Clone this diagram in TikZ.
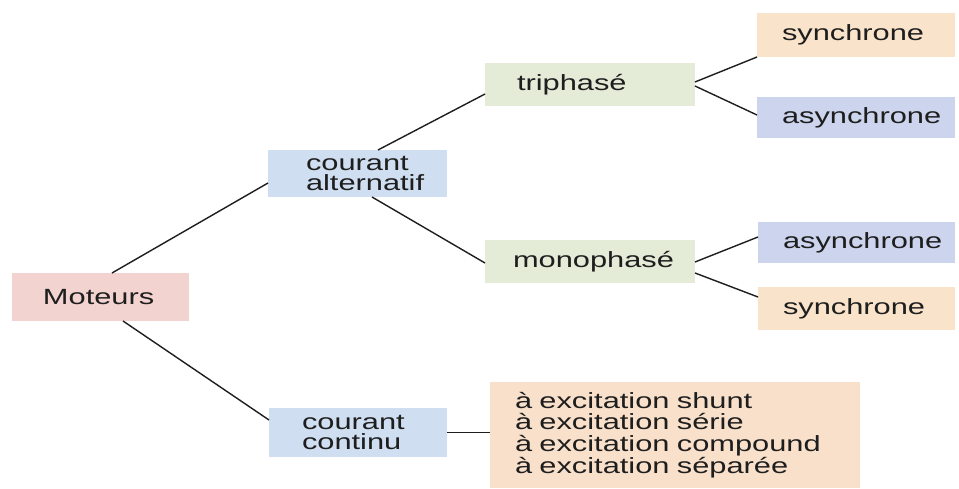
\documentclass[tikz,border=0pt]{standalone}
\usepackage{fontspec}
\setmainfont[FakeStretch=1.4]{Liberation Sans}
\definecolor{cpink}{HTML}{F2D3CF}
\definecolor{cblue}{HTML}{CFDEF0}
\definecolor{cgreen}{HTML}{E4EBD7}
\definecolor{cpeach}{HTML}{F9E4CB}
\definecolor{clav}{HTML}{CDD4ED}
\definecolor{cexc}{HTML}{F8E0CB}
\definecolor{cink}{HTML}{1E1E1E}
\tikzset{
  box/.style n args={3}{anchor=north west, inner sep=0pt, outer sep=0pt,
    minimum width=#1pt, text width=#1pt, minimum height=#2pt, align=left,
    text=cink, font=\fontsize{22}{20.5}\selectfont,
    execute at begin node={\leftskip=#3pt\relax}},
  link/.style={draw=cink, line width=1.4pt}
}
\begin{document}
\begin{tikzpicture}[x=1pt,y=-1pt]
\useasboundingbox (0,0) rectangle (959,489);
\fill[white] (0,0) rectangle (959,489);
\node[box={177}{48}{31}, fill=cpink] (mot) at (12,273) {Moteurs};
\node[box={179}{47}{38}, fill=cblue] (alt) at (268,150) {courant\\alternatif};
\node[box={210}{43}{32}, fill=cgreen] (tri) at (485,63) {triphasé};
\node[box={198}{44}{25}, fill=cpeach] (syn1) at (757,13) {synchrone};
\node[box={198}{41}{25}, fill=clav] (asyn1) at (757,97) {asynchrone};
\node[box={210}{43}{28}, fill=cgreen] (mono) at (485,240) {monophasé};
\node[box={197}{41}{25}, fill=clav] (asyn2) at (758,222) {asynchrone};
\node[box={197}{43}{25}, fill=cpeach] (syn2) at (758,287) {synchrone};
\node[box={178}{49}{33}, fill=cblue] (cont) at (269,408) {courant\\continu};
\node[box={370}{106}{25}, fill=cexc, font=\fontsize{22}{21.8}\selectfont] (exc) at (490,382)
  {à excitation shunt\\à excitation série\\à excitation compound\\à excitation séparée};
\draw[link] ([xshift=100pt]mot.north west) -- ([yshift=-9.5pt]alt.west);
\draw[link] ([xshift=111pt]mot.south west) -- ([yshift=12.5pt]cont.west);
\draw[link] ([xshift=110pt]alt.north west) -- ([yshift=-9.5pt]tri.west);
\draw[link] ([xshift=104pt]alt.south west) -- ([yshift=-1.5pt]tri.west |- mono.west);
\draw[link] ([yshift=2.5pt]tri.east) -- (syn1.south west);
\draw[link] ([yshift=-1.5pt]tri.east) -- ([yshift=2.5pt]asyn1.west);
\draw[link] ([yshift=-0.5pt]mono.east) -- ([yshift=5.5pt]asyn2.west);
\draw[link] ([yshift=-11.5pt]mono.east) -- ([yshift=11.5pt]syn2.west);
\draw[link] (cont.east) -- (cont.east -| exc.west);
\end{tikzpicture}
\end{document}
